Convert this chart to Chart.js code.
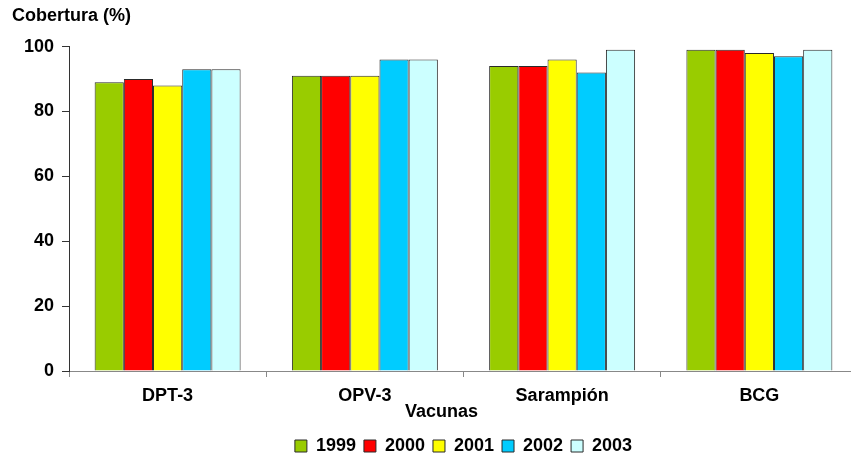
<!DOCTYPE html>
<html lang="es">
<head>
<meta charset="UTF-8">
<title>Cobertura de vacunas</title>
<script src="https://cdn.jsdelivr.net/npm/chart.js"></script>
<style>
    html, body {
        margin: 0;
        padding: 0;
        background: #fff;
        overflow: hidden;
    }
    canvas {
        display: block;
    }
</style>
</head>
<body>

<canvas id="coberturaChart" width="858" height="460"></canvas>

<script>
// datos
var vacunas = ['DPT-3', 'OPV-3', 'Sarampión', 'BCG'];
var anios = ['1999', '2000', '2001', '2002', '2003'];

var cob1999 = [89, 91, 94, 99];
var cob2000 = [90, 91, 94, 99];
var cob2001 = [88, 91, 96, 98];
var cob2002 = [93, 96, 92, 97];
var cob2003 = [93, 96, 99, 99];

var yTicks = [0, 20, 40, 60, 80, 100];

var colores = ['#99cc00', '#ff0000', '#ffff00', '#00ccff', '#ccffff'];
var series = [cob1999, cob2000, cob2001, cob2002, cob2003];

Chart.defaults.font.family = '"Liberation Sans", Arial, sans-serif';
Chart.defaults.font.size = 18;
Chart.defaults.font.weight = 'bold';
Chart.defaults.color = '#000';

var datasets = series.map(function (valores, i) {
    return {
        label: anios[i],
        data: valores,
        backgroundColor: colores[i],
        borderColor: '#2a2a2a',
        borderWidth: 1,
        categoryPercentage: 0.74,
        barPercentage: 1.0
    };
});

// titulo del eje x, algo a la izquierda del centro como en el original
var ejeXTitulo = {
    id: 'ejeXTitulo',
    afterDraw: function (chart) {
        var ctx = chart.ctx;
        var area = chart.chartArea;
        ctx.save();
        ctx.font = 'bold 18px "Liberation Sans", Arial, sans-serif';
        ctx.fillStyle = '#000';
        ctx.textAlign = 'center';
        ctx.textBaseline = 'middle';
        ctx.fillText('Vacunas', (area.left + area.right) / 2 - 22, area.bottom + 41);
        ctx.restore();
    }
};

var ctx = document.getElementById('coberturaChart').getContext('2d');
var coberturaChart = new Chart(ctx, {
    type: 'bar',
    data: {
        labels: vacunas,
        datasets: datasets
    },
    options: {
        responsive: false,
        animation: false,
        layout: {
            padding: { left: 12, right: 0, top: 5, bottom: 0 }
        },
        plugins: {
            title: {
                display: true,
                text: 'Cobertura (%)',
                align: 'start',
                padding: { top: 0, bottom: 20 },
                font: { size: 18, weight: 'bold' }
            },
            legend: {
                position: 'bottom',
                fullSize: false,
                maxHeight: 31,
                labels: {
                    boxWidth: 12,
                    boxHeight: 12,
                    padding: 8
                }
            },
            tooltip: { enabled: false }
        },
        scales: {
            x: {
                grid: {
                    display: true,
                    drawOnChartArea: false,
                    drawTicks: true,
                    tickLength: 6,
                    offset: true,
                    color: '#888'
                },
                border: { color: '#888' },
                ticks: { padding: 8 },
                afterFit: function (scale) {
                    scale.height = 58;
                }
            },
            y: {
                min: 0,
                max: 100,
                afterBuildTicks: function (scale) {
                    scale.ticks = yTicks.map(function (v) { return { value: v }; });
                },
                grid: {
                    display: true,
                    drawOnChartArea: false,
                    drawTicks: true,
                    tickLength: 7,
                    color: '#333'
                },
                border: { color: '#333' },
                ticks: { padding: 8 },
                afterFit: function (scale) {
                    scale.width = 57;
                }
            }
        }
    },
    plugins: [ejeXTitulo]
});
</script>

</body>
</html>
